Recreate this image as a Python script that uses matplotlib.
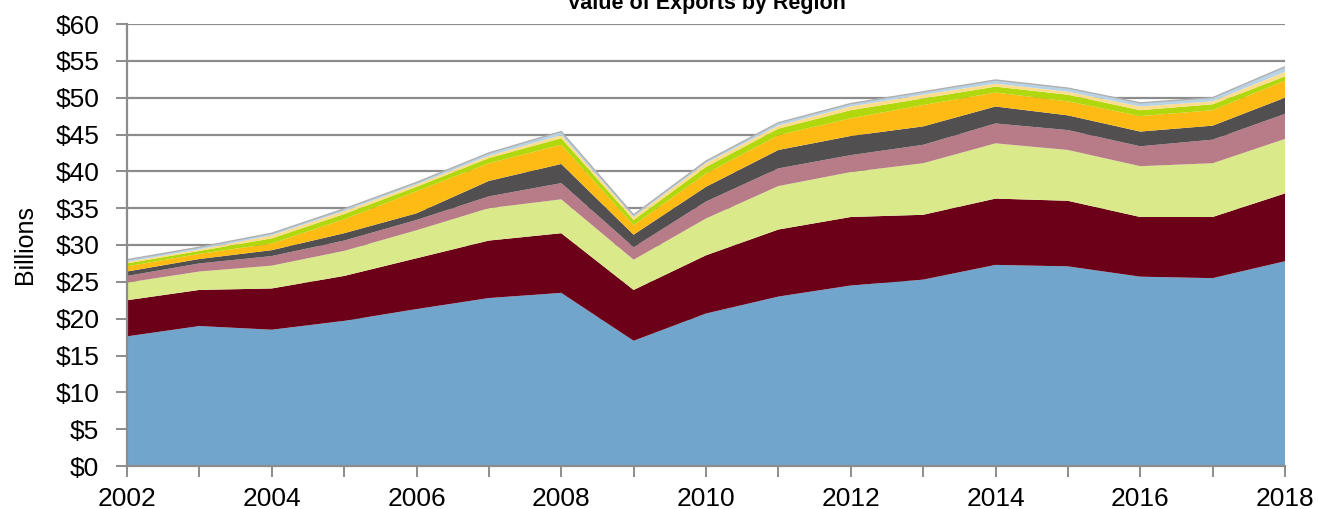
import matplotlib
matplotlib.use("Agg")
import matplotlib.pyplot as plt
import numpy as np

plt.rcParams['font.family'] = ['Liberation Sans', 'DejaVu Sans']

years = list(range(2002, 2019))

# values per region, billions
blue   = [17.6, 19.0, 18.5, 19.7, 21.3, 22.8, 23.5, 17.0, 20.7, 23.0, 24.5, 25.3, 27.3, 27.1, 25.7, 25.5, 27.8]
maroon = [4.9, 4.9, 5.6, 6.1, 6.9, 7.8, 8.1, 6.9, 7.9, 9.1, 9.3, 8.8, 9.0, 8.9, 8.1, 8.3, 9.2]
lime   = [2.4, 2.5, 3.1, 3.4, 3.8, 4.4, 4.6, 4.1, 5.0, 5.9, 6.1, 7.0, 7.5, 6.9, 6.9, 7.3, 7.4]
mauve  = [0.9, 1.1, 1.3, 1.4, 1.4, 1.6, 2.2, 1.7, 2.3, 2.4, 2.3, 2.5, 2.7, 2.7, 2.7, 3.2, 3.4]
grey   = [0.6, 0.6, 0.8, 1.0, 0.9, 2.1, 2.6, 1.7, 2.0, 2.5, 2.6, 2.5, 2.3, 2.0, 2.0, 1.9, 2.2]
orange = [0.7, 0.7, 0.9, 1.9, 3.0, 2.4, 2.6, 1.3, 1.8, 2.0, 2.4, 2.9, 1.9, 1.9, 2.1, 2.1, 2.3]
green  = [0.4, 0.4, 0.7, 0.7, 0.6, 0.7, 0.9, 0.7, 0.9, 0.9, 1.1, 0.9, 0.8, 0.9, 0.8, 0.8, 0.6]
tan    = [0.2, 0.2, 0.4, 0.4, 0.3, 0.3, 0.4, 0.4, 0.5, 0.4, 0.5, 0.5, 0.4, 0.4, 0.5, 0.4, 0.6]
ltblue = [0.3, 0.3, 0.3, 0.3, 0.3, 0.4, 0.5, 0.3, 0.3, 0.4, 0.4, 0.4, 0.5, 0.5, 0.5, 0.5, 0.7]

series = [blue, maroon, lime, mauve, grey, orange, green, tan, ltblue]
colors = ['#72A5CC', '#6C0019', '#DAEA8A', '#B77C88', '#514F50',
          '#FDBB14', '#B0D80C', '#FFDD8C', '#B8D3E6']

fig = plt.figure(figsize=(13.18, 5.09), dpi=100)
ax = fig.add_axes([127/1318, 1 - 466/509, (1285-127)/1318, (466-24)/509])

ax.stackplot(years, *series, colors=colors, linewidth=0, zorder=3)
ax.plot(years, np.sum(series, axis=0), color='#B0B0B0', lw=1.0, zorder=4)

ax.set_xlim(2002, 2018)
ax.set_ylim(0, 60)
ax.set_yticks(range(0, 61, 5))
ax.set_yticklabels([f'${v}' for v in range(0, 61, 5)])
ax.set_xticks(range(2002, 2019, 2))
ax.set_xticks(range(2002, 2019), minor=True)

ax.grid(axis='y', color='#8C8C8C', lw=1.6, zorder=1)
for s in ['top', 'right']:
    ax.spines[s].set_visible(False)
for s in ['left', 'bottom']:
    ax.spines[s].set_color('#8C8C8C')
    ax.spines[s].set_linewidth(1.6)
    ax.spines[s].set_zorder(5)

ax.tick_params(axis='both', which='both', direction='out', color='#8C8C8C',
               width=1.4, length=8, labelsize=19)
ax.tick_params(axis='y', which='major', pad=12)
ax.tick_params(axis='x', which='major', pad=7)

ax.set_ylabel('Billions', fontsize=18)
ax.yaxis.set_label_coords(-90/1158, 0.5)
fig.text((127 + 1285) / 2 / 1318, 1 - 9/509, 'Value of Exports by Region',
         ha='center', va='baseline', fontsize=15.5, fontweight='bold')

fig.savefig('out.png', dpi=100)
